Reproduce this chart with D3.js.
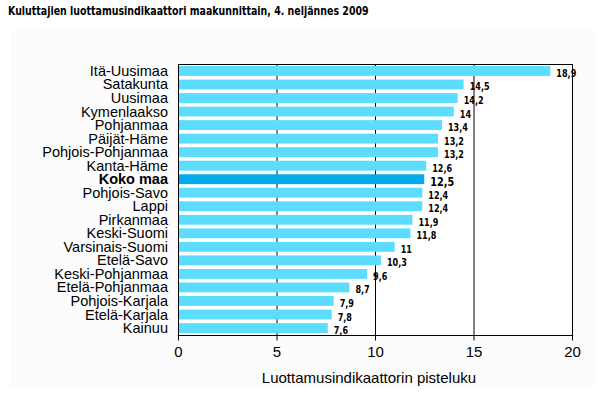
<!DOCTYPE html>
<html>
<head>
<meta charset="utf-8">
<script src="https://cdn.jsdelivr.net/npm/d3@7"></script>
<style>
  body { margin: 0; background: #fff; }
  svg { display: block; }
</style>
</head>
<body>
<svg id="chart"></svg>
<script>
// data
const regions = ["Itä-Uusimaa", "Satakunta", "Uusimaa", "Kymenlaakso", "Pohjanmaa", "Päijät-Häme",
  "Pohjois-Pohjanmaa", "Kanta-Häme", "Koko maa", "Pohjois-Savo", "Lappi", "Pirkanmaa", "Keski-Suomi",
  "Varsinais-Suomi", "Etelä-Savo", "Keski-Pohjanmaa", "Etelä-Pohjanmaa", "Pohjois-Karjala",
  "Etelä-Karjala", "Kainuu"];
const scores = [18.9, 14.5, 14.2, 14, 13.4, 13.2, 13.2, 12.6, 12.5, 12.4, 12.4, 11.9, 11.8, 11, 10.3, 9.6, 8.7, 7.9, 7.8, 7.6];
const xTicks = [0, 5, 10, 15, 20];
const totalName = "Koko maa";

const width = 606, height = 397;
const narrow = "'Liberation Sans Narrow', 'Arial Narrow', 'DejaVu Sans Condensed', sans-serif";
const sans = "'Liberation Sans', Arial, sans-serif";

const svg = d3.select("#chart")
  .attr("width", width)
  .attr("height", height);

// faint chart area background
svg.append("rect")
  .attr("x", 10).attr("y", 30)
  .attr("width", 585).attr("height", 357)
  .attr("fill", "#fcfcfc");

// title, squeezed a bit to look like a narrow face
svg.append("text")
  .attr("transform", "translate(8,15) scale(0.875,1)")
  .attr("font-family", narrow)
  .attr("font-weight", "bold")
  .attr("font-size", "12px")
  .attr("fill", "#000")
  .text("Kuluttajien luottamusindikaattori maakunnittain, 4. neljännes 2009");

const plot = { left: 178, right: 572, top: 64, bottom: 335 };

const x = d3.scaleLinear()
  .domain([0, 20])
  .range([plot.left, plot.right]);

const y = d3.scaleBand()
  .domain(regions)
  .range([plot.top, plot.bottom])
  .paddingInner(0.27)
  .paddingOuter(0.15);

// plot background
svg.append("rect")
  .attr("x", plot.left).attr("y", plot.top)
  .attr("width", plot.right - plot.left).attr("height", plot.bottom - plot.top)
  .attr("fill", "#fff");

// vertical gridlines (behind the bars)
svg.append("g")
  .selectAll("line")
  .data(xTicks.slice(1))
  .join("line")
  .attr("x1", d => x(d) + 0.5).attr("x2", d => x(d) + 0.5)
  .attr("y1", plot.top).attr("y2", plot.bottom)
  .attr("stroke", "#000")
  .attr("stroke-width", 1);

svg.append("g")
  .selectAll("rect")
  .data(regions)
  .join("rect")
  .attr("x", x(0))
  .attr("y", d => y(d))
  .attr("width", (d, i) => x(scores[i]) - x(0))
  .attr("height", y.bandwidth())
  .attr("fill", d => d === totalName ? "#00acec" : "#5cdcff");

// frame: top and left edges
svg.append("path")
  .attr("d", `M${plot.left + 0.5},${plot.bottom}V${plot.top + 0.5}H${plot.right + 0.5}`)
  .attr("fill", "none")
  .attr("stroke", "#000");

// value labels
svg.append("g")
  .selectAll("text")
  .data(regions)
  .join("text")
  .attr("transform", (d, i) => `translate(${x(scores[i]) + 6},${y(d) + y.bandwidth() / 2 + (d === totalName ? 7 : 6)}) scale(0.9,1)`)
  .attr("font-family", narrow)
  .attr("font-weight", "bold")
  .attr("font-size", d => d === totalName ? "12px" : "10px")
  .attr("fill", "#000")
  .text((d, i) => String(scores[i]).replace(".", ","));

// category labels
svg.append("g")
  .selectAll("text")
  .data(regions)
  .join("text")
  .attr("x", 168)
  .attr("y", d => y(d) + y.bandwidth() / 2 + 5)
  .attr("text-anchor", "end")
  .attr("font-family", sans)
  .attr("font-weight", d => d === totalName ? "bold" : "normal")
  .attr("font-size", "14.5px")
  .attr("fill", "#000")
  .text(d => d);

// x axis
const xAxis = svg.append("g")
  .attr("transform", `translate(0,${plot.bottom + 0.5})`)
  .call(d3.axisBottom(x).tickValues(xTicks).tickSize(5).tickPadding(6).tickFormat(d3.format("d")));

xAxis.select(".domain").attr("stroke", "#000").attr("d", `M${plot.left},0.5V0H${plot.right + 1}V0.5`);
xAxis.selectAll(".tick line").attr("stroke", "#000");
xAxis.selectAll(".tick text")
  .attr("font-family", sans)
  .attr("font-size", "15px")
  .attr("fill", "#000");

// right edge of the frame
svg.append("line")
  .attr("x1", plot.right + 0.5).attr("x2", plot.right + 0.5)
  .attr("y1", plot.top).attr("y2", plot.bottom)
  .attr("stroke", "#000");

svg.append("text")
  .attr("x", 369)
  .attr("y", 383)
  .attr("text-anchor", "middle")
  .attr("font-family", sans)
  .attr("font-size", "15px")
  .attr("fill", "#000")
  .text("Luottamusindikaattorin pisteluku");
</script>
</body>
</html>
